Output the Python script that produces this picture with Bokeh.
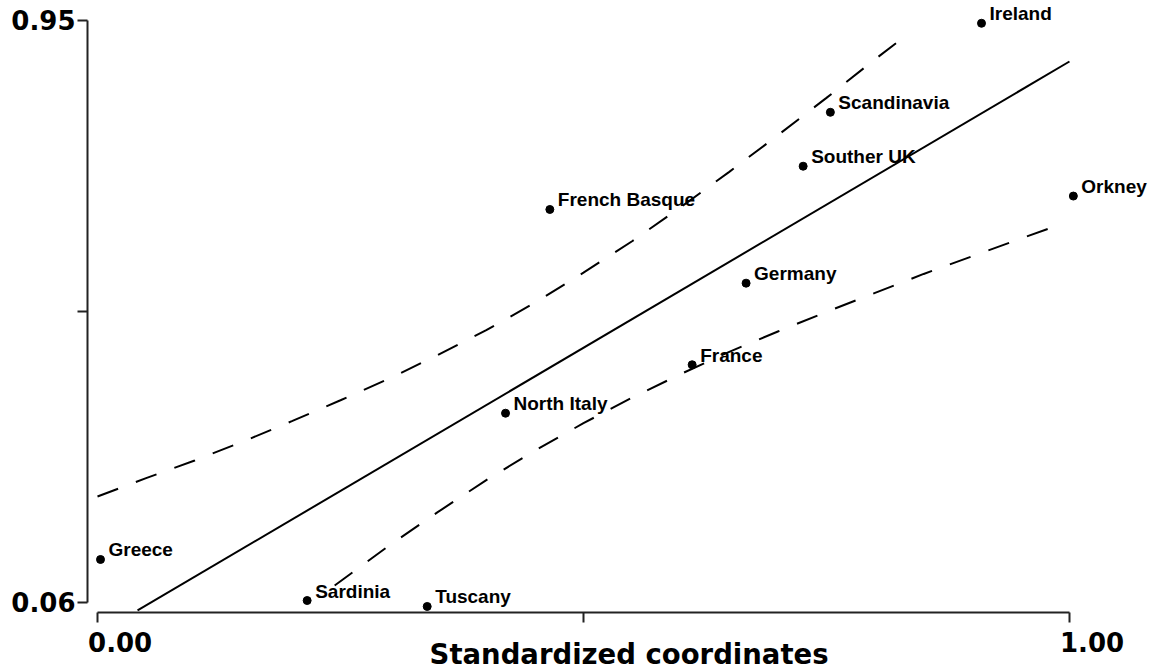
from bokeh.plotting import figure
from bokeh.models import Range1d, FixedTicker, ColumnDataSource, LabelSet
from bokeh.core.properties import value
from bokeh.embed import file_html
from bokeh.resources import INLINE

# ---- data ----
regions = ["Ireland", "Scandinavia", "Souther UK", "Orkney", "French Basque",
           "Germany", "France", "North Italy", "Greece", "Sardinia", "Tuscany"]
coord_x = [0.9095, 0.754, 0.726, 1.004, 0.4654, 0.6673, 0.6118, 0.4198, 0.0031, 0.2157, 0.3392]
coord_y = [0.945, 0.809, 0.7266, 0.681, 0.6605, 0.5479, 0.4232, 0.3492, 0.1257, 0.063, 0.0539]

fit_x = [0.0412, 1.0]
fit_y = [0.0478, 0.8866]

upper_x = [0.0, 0.05, 0.10, 0.15, 0.20, 0.25, 0.30, 0.35, 0.40, 0.45, 0.50, 0.55,
           0.60, 0.65, 0.70, 0.75, 0.80, 0.822]
upper_y = [0.222, 0.250, 0.277, 0.306, 0.337, 0.369, 0.402, 0.438, 0.476, 0.518, 0.564, 0.612,
           0.664, 0.718, 0.774, 0.831, 0.890, 0.915]

lower_x = [0.244, 0.30, 0.35, 0.40, 0.45, 0.50, 0.55, 0.60, 0.65, 0.70, 0.75, 0.80,
           0.85, 0.90, 0.95, 0.982]
lower_y = [0.086, 0.147, 0.198, 0.247, 0.292, 0.334, 0.373, 0.409, 0.443, 0.474, 0.504, 0.533,
           0.562, 0.589, 0.616, 0.633]

x_ticks = [0.0, 0.5, 1.0]
x_tick_labels = ["0.00", "", "1.00"]
y_ticks = [0.06, 0.505, 0.95]
y_tick_labels = ["0.06", "", "0.95"]
x_title = "Standardized coordinates"

# ---- figure ----
p = figure(width=1151, height=672, output_backend="svg", toolbar_location=None,
           x_range=Range1d(-0.01029, 1.0844), y_range=Range1d(0.0447, 0.9798),
           min_border_left=87, min_border_right=0, min_border_top=0, min_border_bottom=60)
p.outline_line_color = None
p.grid.visible = False
p.background_fill_color = "white"
p.border_fill_color = "white"

AX = "#222222"
for ax in (p.xaxis[0], p.yaxis[0]):
    ax.axis_line_color = AX
    ax.axis_line_width = 2
    ax.major_tick_line_color = AX
    ax.major_tick_line_width = 2
    ax.major_tick_in = 0
    ax.major_tick_out = 10
    ax.minor_tick_line_color = None
    ax.major_label_text_font = "DejaVu Sans"
    ax.major_label_text_font_style = "bold"
    ax.major_label_text_font_size = "26px"
    ax.major_label_text_color = "black"

xa = p.xaxis[0]
xa.bounds = (x_ticks[0], x_ticks[-1])
xa.ticker = FixedTicker(ticks=x_ticks)
xa.major_label_overrides = {t: ("\u00a0" * 5 + l if l else "") for t, l in zip(x_ticks, x_tick_labels)}
xa.major_label_standoff = 5
xa.axis_label = "\u00a0\u00a0" + x_title
xa.axis_label_text_font = "DejaVu Sans"
xa.axis_label_text_font_style = "bold"
xa.axis_label_text_font_size = "27.5px"
xa.axis_label_text_color = "black"
xa.axis_label_standoff = -23

ya = p.yaxis[0]
ya.bounds = (y_ticks[0], y_ticks[-1])
ya.ticker = FixedTicker(ticks=y_ticks)
ya.major_label_overrides = {t: l for t, l in zip(y_ticks, y_tick_labels)}
ya.major_label_standoff = 2

# regression line and bands
p.line(fit_x, fit_y, line_color="black", line_width=2)
p.line(upper_x, upper_y, line_color="black", line_width=2, line_dash="22 19")
p.line(lower_x, lower_y, line_color="black", line_width=2, line_dash="22 19")

src = ColumnDataSource(dict(x=coord_x, y=coord_y, name=regions))
p.scatter("x", "y", source=src, size=8, color="black")
labels = LabelSet(x="x", y="y", text="name", source=src, x_offset=8, y_offset=3,
                  text_font=value("Liberation Sans"), text_font_style="bold",
                  text_font_size="19px", text_color="black", text_baseline="alphabetic")
p.add_layout(labels)

open("out.html", "w").write(file_html(p, INLINE))
